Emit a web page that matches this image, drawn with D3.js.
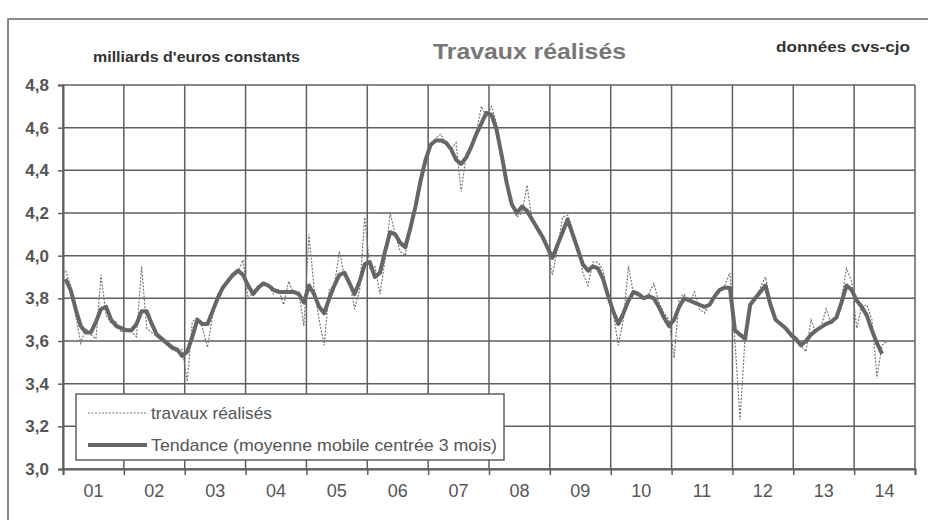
<!DOCTYPE html>
<html lang="fr">
<head>
<meta charset="UTF-8">
<title>Travaux réalisés</title>
<script src="https://cdn.jsdelivr.net/npm/d3@7"></script>
<style>
    body { margin: 0; background: #fff; }
    text { font-family: 'Liberation Sans', Arial, sans-serif; fill: #555; }
</style>
</head>
<body>
<script>
    // monthly data, Jan 2001 onwards
    const yearLabels = ['01','02','03','04','05','06','07','08','09','10','11','12','13','14'];
    const yTicks = [3.0, 3.2, 3.4, 3.6, 3.8, 4.0, 4.2, 4.4, 4.6, 4.8];

    const travaux = [
        3.93,3.86,3.72,3.59,3.66,3.63,3.61,3.91,3.72,3.68,3.69,3.64,
        3.66,3.64,3.62,3.95,3.66,3.64,3.62,3.62,3.58,3.56,3.55,3.56,
        3.41,3.69,3.71,3.66,3.57,3.72,3.82,3.84,3.89,3.90,3.92,3.98,
        3.80,3.83,3.86,3.86,3.86,3.82,3.84,3.77,3.88,3.82,3.83,3.67,
        4.10,3.85,3.70,3.58,3.84,3.86,4.02,3.90,3.88,3.75,3.84,4.18,
        3.94,3.95,3.82,3.98,4.20,4.10,4.02,4.00,4.15,4.25,4.38,4.45,
        4.52,4.55,4.57,4.52,4.50,4.53,4.30,4.47,4.50,4.58,4.70,4.65,
        4.70,4.62,4.48,4.34,4.26,4.18,4.20,4.33,4.16,4.12,4.10,4.03,
        3.91,4.03,4.18,4.19,4.12,4.05,3.92,3.86,3.97,3.97,3.93,3.80,
        3.73,3.58,3.70,3.95,3.82,3.81,3.80,3.82,3.87,3.78,3.73,3.70,
        3.52,3.80,3.82,3.78,3.83,3.75,3.73,3.78,3.80,3.84,3.86,3.92,
        3.60,3.23,3.62,3.78,3.80,3.85,3.90,3.79,3.70,3.68,3.65,3.62,
        3.60,3.58,3.55,3.70,3.64,3.67,3.75,3.68,3.72,3.80,3.94,3.88,
        3.66,3.76,3.77,3.70,3.43,3.58,3.60
    ];

    const tendance = [
        3.89,3.84,3.75,3.67,3.64,3.64,3.69,3.75,3.76,3.70,3.67,3.66,
        3.65,3.65,3.68,3.74,3.74,3.68,3.63,3.61,3.59,3.57,3.56,3.53,
        3.55,3.62,3.70,3.68,3.68,3.74,3.80,3.85,3.88,3.91,3.93,3.91,
        3.86,3.82,3.85,3.87,3.86,3.84,3.83,3.83,3.83,3.83,3.82,3.78,
        3.86,3.82,3.76,3.73,3.80,3.86,3.91,3.92,3.87,3.82,3.88,3.96,
        3.97,3.90,3.92,4.02,4.11,4.10,4.06,4.04,4.13,4.23,4.35,4.45,
        4.52,4.54,4.54,4.53,4.50,4.45,4.43,4.46,4.51,4.57,4.62,4.67,
        4.66,4.59,4.47,4.34,4.24,4.20,4.23,4.21,4.17,4.13,4.09,4.04,
        3.99,4.05,4.11,4.17,4.10,4.03,3.96,3.93,3.95,3.94,3.89,3.81,
        3.74,3.68,3.73,3.79,3.83,3.82,3.80,3.81,3.80,3.76,3.71,3.67,
        3.70,3.76,3.80,3.79,3.78,3.77,3.76,3.77,3.81,3.84,3.85,3.85,
        3.65,3.63,3.61,3.77,3.80,3.83,3.86,3.77,3.70,3.68,3.66,3.63,
        3.61,3.58,3.60,3.63,3.65,3.665,3.68,3.69,3.71,3.78,3.86,3.84,
        3.79,3.76,3.72,3.65,3.59,3.54
    ];

    const width = 928, height = 520;
    const plotLeft = 63, plotRight = 915, plotTop = 85, plotBottom = 469;
    const grey = '#5f5f5f';

    const fr = d3.formatLocale({decimal: ',', thousands: ' ', grouping: [3], currency: ['', ' €']});

    const x = d3.scaleLinear().domain([0, yearLabels.length * 12]).range([plotLeft, plotRight]);
    const y = d3.scaleLinear().domain([3.0, 4.8]).range([plotBottom, plotTop]);

    const svg = d3.select('body').append('svg')
        .attr('width', width)
        .attr('height', height);

    // outer frame
    svg.append('path')
        .attr('d', 'M8,520 V19 H928')
        .attr('fill', 'none')
        .attr('stroke', '#666')
        .attr('stroke-width', 1.5);

    // titles (scan is a bit stretched, so widths are forced)
    svg.append('text').attr('x', 93).attr('y', 62)
        .attr('textLength', 207).attr('lengthAdjust', 'spacingAndGlyphs')
        .style('font-size', '15px').style('font-weight', 'bold').style('fill', '#333')
        .text("milliards d'euros constants");
    svg.append('text').attr('x', 433).attr('y', 59)
        .attr('textLength', 193).attr('lengthAdjust', 'spacingAndGlyphs')
        .style('font-size', '22px').style('font-weight', 'bold').style('fill', '#777')
        .text('Travaux réalisés');
    svg.append('text').attr('x', 776).attr('y', 52)
        .attr('textLength', 134).attr('lengthAdjust', 'spacingAndGlyphs')
        .style('font-size', '15px').style('font-weight', 'bold').style('fill', '#333')
        .text('données cvs-cjo');

    // grid
    const grid = svg.append('g').attr('stroke', grey).attr('stroke-width', 1.5);
    grid.selectAll('.hgrid')
        .data(yTicks)
        .enter().append('line').attr('class', 'hgrid')
        .attr('x1', plotLeft).attr('x2', plotRight)
        .attr('y1', d => y(d)).attr('y2', d => y(d));
    grid.selectAll('.vgrid')
        .data(d3.range(0, yearLabels.length + 1))
        .enter().append('line').attr('class', 'vgrid')
        .attr('x1', d => x(d * 12)).attr('x2', d => x(d * 12))
        .attr('y1', plotTop).attr('y2', plotBottom);

    // y axis
    const yAxis = svg.append('g')
        .attr('transform', 'translate(' + plotLeft + ',0)')
        .call(d3.axisLeft(y).tickValues(yTicks).tickFormat(fr.format('.1f')).tickSize(5).tickPadding(8));
    yAxis.select('.domain').attr('stroke', grey).attr('stroke-width', 2);
    yAxis.selectAll('.tick line').attr('stroke', grey).attr('stroke-width', 1.5);
    yAxis.selectAll('text')
        .attr('dx', -1)
        .style('font-size', '17px').style('font-weight', 'bold').style('fill', '#555');

    // x axis
    const xAxis = svg.append('g')
        .attr('transform', 'translate(0,' + plotBottom + ')')
        .call(d3.axisBottom(x).tickValues(d3.range(0, yearLabels.length + 1).map(d => d * 12))
            .tickFormat('').tickSize(6));
    xAxis.select('.domain').attr('stroke', grey).attr('stroke-width', 2);
    xAxis.selectAll('.tick line').attr('stroke', grey).attr('stroke-width', 1.5);

    svg.append('g').selectAll('text')
        .data(yearLabels)
        .enter().append('text')
        .attr('x', (d, i) => x(i * 12 + 6))
        .attr('y', 497)
        .attr('text-anchor', 'middle')
        .style('font-size', '18px')
        .style('fill', '#555')
        .text(d => d);

    // series
    const line = d3.line()
        .x((d, i) => x(i + 0.5))
        .y(d => y(d));

    svg.append('path')
        .datum(travaux)
        .attr('d', line)
        .attr('fill', 'none')
        .attr('stroke', '#777')
        .attr('stroke-width', 1.2)
        .attr('stroke-dasharray', '2,1.5');

    svg.append('path')
        .datum(tendance)
        .attr('d', line)
        .attr('fill', 'none')
        .attr('stroke', '#666')
        .attr('stroke-width', 4)
        .attr('stroke-linejoin', 'round');

    // legend
    const legend = svg.append('g').attr('transform', 'translate(76,394)');
    legend.append('rect')
        .attr('width', 428).attr('height', 66)
        .attr('fill', '#fff').attr('stroke', grey).attr('stroke-width', 1.5);

    const legendItems = [
        {label: 'travaux réalisés', width: 1.2, dash: '2,1.5', color: '#777', len: 121},
        {label: 'Tendance (moyenne mobile centrée 3 mois)', width: 4, dash: null, color: '#666', len: 346}
    ];
    legend.selectAll('line')
        .data(legendItems)
        .enter().append('line')
        .attr('x1', 12).attr('x2', 71)
        .attr('y1', (d, i) => 19 + i * 32).attr('y2', (d, i) => 19 + i * 32)
        .attr('stroke', d => d.color)
        .attr('stroke-width', d => d.width)
        .attr('stroke-dasharray', d => d.dash);
    legend.selectAll('text')
        .data(legendItems)
        .enter().append('text')
        .attr('x', 75)
        .attr('y', (d, i) => 25 + i * 32)
        .attr('textLength', d => d.len)
        .attr('lengthAdjust', 'spacingAndGlyphs')
        .style('font-size', '17px')
        .style('fill', '#555')
        .text(d => d.label);
</script>
</body>
</html>
